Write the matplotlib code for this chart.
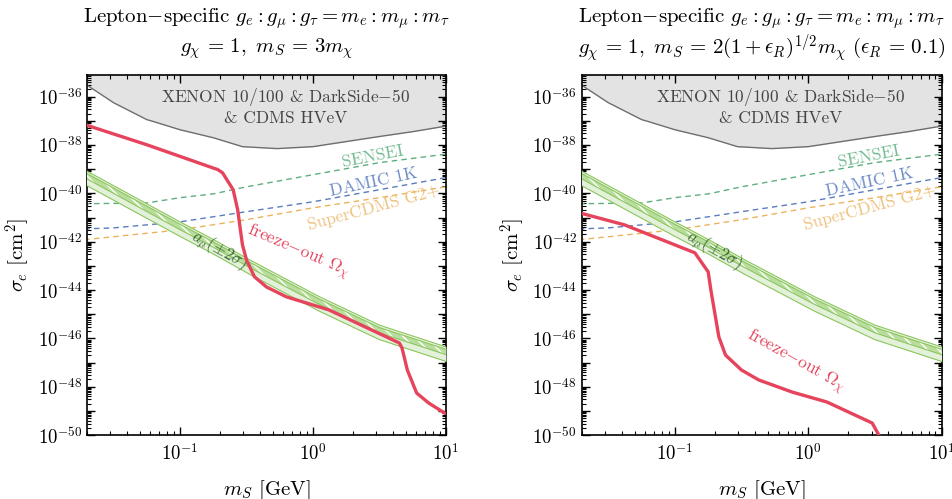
import numpy as np
import matplotlib
matplotlib.use("Agg")
import matplotlib.pyplot as plt
from matplotlib.ticker import FixedLocator, FuncFormatter, LogLocator, NullFormatter

plt.rcParams['mathtext.fontset'] = 'cm'
plt.rcParams['font.family'] = 'cmr10'
plt.rcParams['axes.formatter.use_mathtext'] = True
plt.rcParams['hatch.linewidth'] = 1.0

# values, as log10
# XENON 10/100 & DarkSide-50 & CDMS HVeV lower edge
xen_x = [-1.72, -1.50, -1.25, -1.20, -1.00, -0.75, -0.53, -0.27, 0.00, 0.25, 0.50, 0.75, 1.00]
xen_y = [-35.45, -36.25, -36.95, -37.03, -37.37, -37.70, -38.07, -38.15, -38.07, -37.86, -37.65, -37.45, -37.22]

# projections (dashed)
sensei_x = [-1.72, -1.25, -1.0, -0.745, -0.5, 0.0, 0.5, 1.0]
sensei_y = [-40.43, -40.40, -40.18, -40.02, -39.73, -39.23, -38.73, -38.38]
damic_x = [-1.72, -1.5, -1.0, -0.5, 0.0, 0.5, 1.0]
damic_y = [-41.47, -41.43, -41.18, -40.76, -40.35, -39.85, -39.35]
scdms_x = [-1.72, -1.0, -0.5, 0.0, 0.5, 1.0]
scdms_y = [-41.92, -41.51, -41.09, -40.60, -40.18, -39.73]

# a_mu (+-2 sigma) band, upper edge and lower edge
band_x = [-1.72, -1.0, -0.745, -0.476, 0.05, 0.5, 1.0]
band_hi = [-39.02, -41.18, -41.92, -42.75, -44.28, -45.45, -46.35]
band_lo = [-39.62, -41.78, -42.52, -43.35, -44.88, -46.05, -46.95]
band_in1 = [-39.12, -41.28, -42.02, -42.85, -44.38, -45.55, -46.45]
band_in2 = [-39.34, -41.50, -42.24, -43.07, -44.60, -45.77, -46.67]

# freeze-out curves
fo1_x = [-1.72, -1.25, -0.715, -0.68, -0.60, -0.566, -0.53, -0.50, -0.44, -0.35, -0.20, 0.12, 0.65, 0.67, 0.71, 0.78, 0.87, 1.0]
fo1_y = [-37.15, -37.99, -39.02, -39.15, -39.85, -40.68, -42.13, -42.75, -43.45, -43.87, -44.28, -44.82, -46.19, -46.40, -47.31, -48.26, -48.67, -49.12]
fo2_x = [-1.72, -1.38, -0.85, -0.75, -0.73, -0.67, -0.62, -0.50, -0.37, -0.12, 0.14, 0.48, 0.54]
fo2_y = [-40.80, -41.30, -42.46, -43.25, -44.00, -45.94, -46.69, -47.31, -47.72, -48.22, -48.63, -49.50, -50.10]

title1 = r"Lepton$-$specific $g_e:g_\mu:g_\tau=m_e:m_\mu:m_\tau$"
title2 = [r"$g_\chi\, =\, 1,\ m_S\, =\, 3m_\chi$",
          r"$g_\chi\, =\, 1,\ m_S\, =\, 2(1+\epsilon_R)^{1/2}m_\chi\ (\epsilon_R\, =\, 0.1)$"]

red = '#e5445c'
c_sensei, c_damic, c_scdms = '#5fae7e', '#5b7cbd', '#ebb45a'
t_sensei, t_damic, t_scdms = '#74bb90', '#6f8cc6', '#eec27e'
band_edge = '#8cc65e'
band_fill = '#e3f1da'

fig = plt.figure(figsize=(9.52, 4.99), dpi=100)
positions = [[0.0914, 0.128, 0.377, 0.722], [0.611, 0.128, 0.378, 0.722]]
fo_data = [(fo1_x, fo1_y), (fo2_x, fo2_y)]
fo_label = [(0.77, 10**-42.42, -23), (0.80, 10**-46.98, -29)]

P = lambda a: 10.0**np.array(a)

for i in range(2):
    ax = fig.add_axes(positions[i])
    ax.set_xscale('log')
    ax.set_yscale('log')

    # excluded region
    ax.fill_between(P(xen_x), P(xen_y), 1e-30, color='#e3e3e3', lw=0, zorder=1)
    ax.plot(P(xen_x), P(xen_y), color='#6e6e6e', lw=1.0, zorder=2)
    ax.text(0.62, 10**-36.0, r"XENON 10/100 & DarkSide$-$50",
            ha='center', va='center', fontsize=12.5, color='#444444', zorder=3)
    ax.text(0.62, 10**-36.9, "& CDMS HVeV",
            ha='center', va='center', fontsize=12.5, color='#444444', zorder=3)

    # dashed projections
    ax.plot(P(sensei_x), P(sensei_y), color=c_sensei, lw=1.0, dashes=(4, 3), zorder=2)
    ax.plot(P(damic_x), P(damic_y), color=c_damic, lw=1.0, dashes=(4, 3), zorder=2)
    ax.plot(P(scdms_x), P(scdms_y), color=c_scdms, lw=1.0, dashes=(4, 3), zorder=2)
    ax.text(2.84, 10**-38.48, "SENSEI", color=t_sensei, fontsize=12.5, rotation=11,
            ha='center', va='center', rotation_mode='anchor')
    ax.text(2.88, 10**-39.52, "DAMIC 1K", color=t_damic, fontsize=12.5, rotation=12,
            ha='center', va='center', rotation_mode='anchor')
    ax.text(2.88, 10**-40.6, "SuperCDMS G2+", color=t_scdms, fontsize=12.5, rotation=15,
            ha='center', va='center', rotation_mode='anchor')

    # a_mu band
    ax.fill_between(P(band_x), P(band_lo), P(band_hi), color=band_fill, lw=0, zorder=3)
    ax.fill_between(P(band_x), P(band_in2), P(band_in1), facecolor='#b9dd9d', edgecolor='white',
                    hatch='\\\\\\', lw=0, zorder=3)
    for b in (band_hi, band_lo, band_in1, band_in2):
        ax.plot(P(band_x), P(b), color=band_edge, lw=0.8, zorder=4)
    ax.text(0.196, 10**-42.34, r"$a_\mu(\pm2\sigma)$", color='#3d6b35', fontsize=12, rotation=-29,
            ha='center', va='center', rotation_mode='anchor', zorder=5)

    # freeze-out
    fx, fy = fo_data[i]
    ax.plot(P(fx), P(fy), color=red, lw=2.4, zorder=6, solid_capstyle='butt')
    lx, ly, lr = fo_label[i]
    ax.text(lx, ly, r"freeze$-$out $\Omega_\chi$", color=red, fontsize=12.5, rotation=lr,
            ha='center', va='center', rotation_mode='anchor', zorder=7)

    ax.set_xlim(0.02, 10)
    ax.set_ylim(1e-50, 10**-35.1)

    ax.yaxis.set_major_locator(FixedLocator(10.0**np.arange(-50, -35)))
    ax.yaxis.set_major_formatter(FuncFormatter(
        lambda v, p: r"$10^{%d}$" % round(np.log10(v)) if round(np.log10(v)) % 2 == 0 else ""))
    ax.yaxis.set_minor_locator(LogLocator(base=10, subs=np.arange(2, 10), numticks=100))
    ax.yaxis.set_minor_formatter(NullFormatter())
    ax.xaxis.set_major_locator(FixedLocator([0.1, 1.0, 10.0]))
    ax.xaxis.set_major_formatter(FuncFormatter(lambda v, p: r"$10^{%d}$" % round(np.log10(v))))
    ax.xaxis.set_minor_locator(LogLocator(base=10, subs=np.arange(2, 10), numticks=100))
    ax.xaxis.set_minor_formatter(NullFormatter())
    ax.tick_params(which='both', direction='in', top=True, right=True, labelsize=13.5)
    ax.tick_params(which='major', length=6, width=1.0)
    ax.tick_params(which='minor', length=3, width=0.8)
    ax.tick_params(axis='x', pad=6)
    for s in ax.spines.values():
        s.set_linewidth(1.2)

    ax.set_xlabel(r"$m_S$ [GeV]", fontsize=15, labelpad=10)
    ax.set_ylabel(r"$\sigma_e$ [cm$^2$]", fontsize=15, labelpad=4)
    ax.text(0.5, 1.155, title1, transform=ax.transAxes, ha='center', va='center', fontsize=15)
    ax.text(0.5, 1.073, title2[i], transform=ax.transAxes, ha='center', va='center', fontsize=15)

fig.savefig("out.png", dpi=100)
